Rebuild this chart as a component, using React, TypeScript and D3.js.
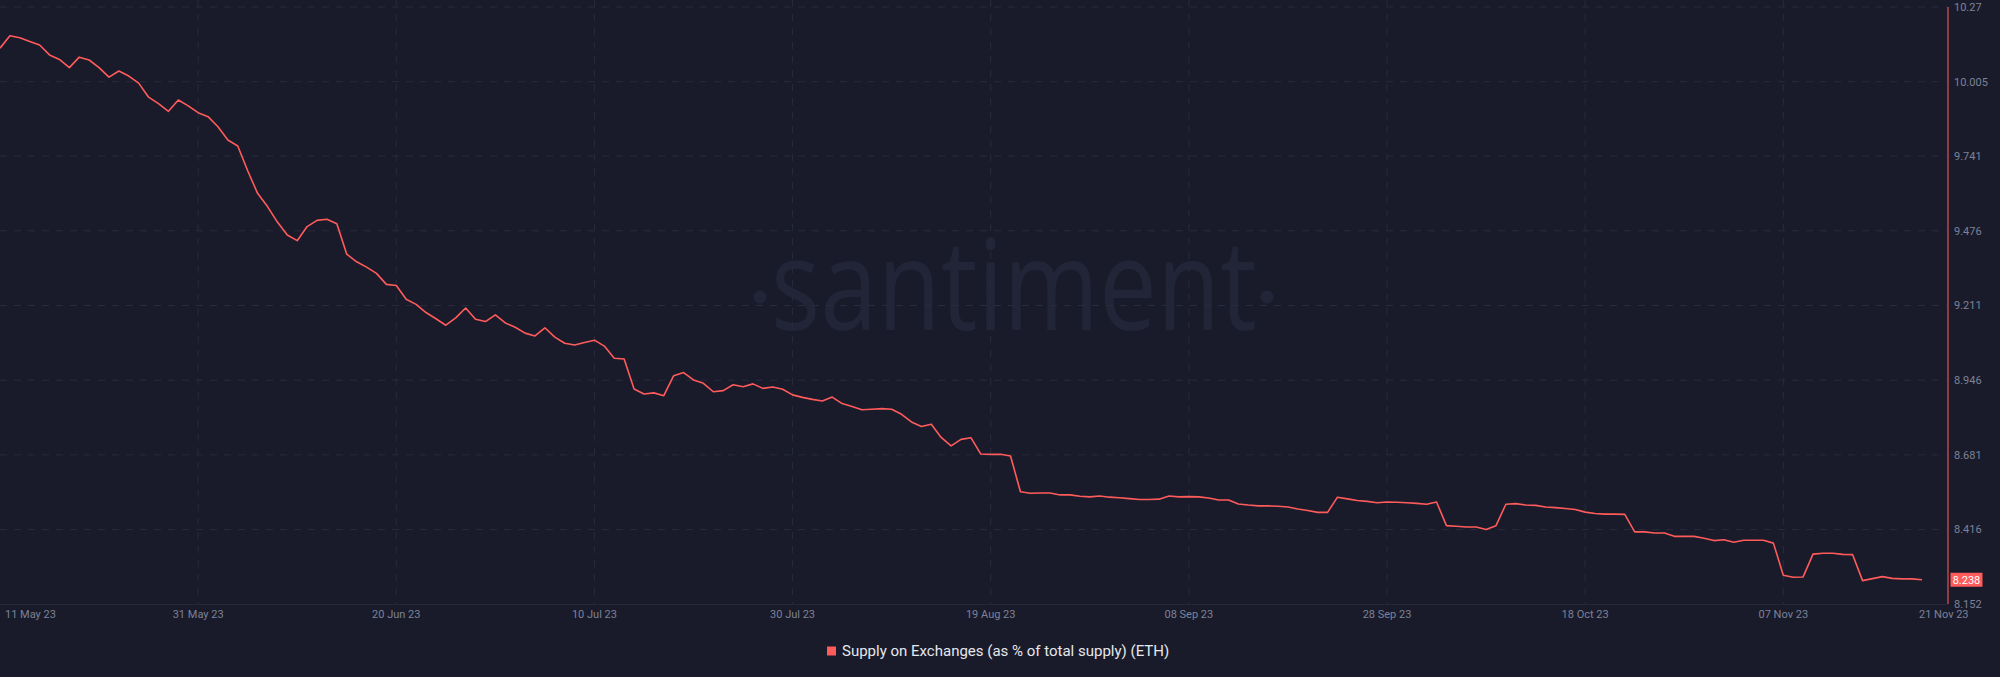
import React from "react";
import * as d3 from "d3";

const START_DATE = "2023-05-11";
const END_DATE = "2023-11-21";

const supplyValues: number[] = [
  10.124, 10.168, 10.161, 10.148, 10.135, 10.100, 10.084, 10.055, 10.092, 10.082,
  10.055, 10.021, 10.043, 10.025, 10.000, 9.950, 9.927, 9.900, 9.940, 9.919,
  9.895, 9.881, 9.845, 9.798, 9.777, 9.689, 9.609, 9.562, 9.507, 9.461,
  9.441, 9.491, 9.513, 9.517, 9.501, 9.393, 9.366, 9.347, 9.325, 9.286,
  9.282, 9.233, 9.215, 9.186, 9.164, 9.141, 9.167, 9.202, 9.162, 9.154,
  9.178, 9.149, 9.134, 9.113, 9.103, 9.132, 9.099, 9.077, 9.071, 9.080,
  9.088, 9.067, 9.024, 9.021, 8.915, 8.897, 8.901, 8.891, 8.962, 8.973,
  8.947, 8.935, 8.905, 8.909, 8.930, 8.923, 8.933, 8.917, 8.922, 8.914,
  8.894, 8.885, 8.878, 8.872, 8.886, 8.863, 8.853, 8.841, 8.843, 8.845,
  8.843, 8.825, 8.798, 8.782, 8.790, 8.743, 8.713, 8.736, 8.742, 8.684,
  8.683, 8.683, 8.677, 8.550, 8.545, 8.546, 8.546, 8.539, 8.539, 8.534,
  8.532, 8.535, 8.531, 8.529, 8.526, 8.523, 8.523, 8.524, 8.535, 8.532,
  8.533, 8.532, 8.528, 8.521, 8.521, 8.507, 8.503, 8.500, 8.500, 8.499,
  8.496, 8.489, 8.484, 8.477, 8.477, 8.531, 8.525, 8.519, 8.516, 8.511,
  8.514, 8.513, 8.511, 8.509, 8.506, 8.514, 8.430, 8.428, 8.425, 8.425,
  8.416, 8.430, 8.506, 8.508, 8.503, 8.502, 8.496, 8.494, 8.491, 8.487,
  8.478, 8.473, 8.471, 8.471, 8.470, 8.408, 8.408, 8.404, 8.404, 8.392,
  8.392, 8.392, 8.385, 8.377, 8.380, 8.371, 8.378, 8.378, 8.378, 8.368,
  8.254, 8.247, 8.248, 8.329, 8.332, 8.332, 8.328, 8.327, 8.235, 8.242,
  8.249, 8.243, 8.241, 8.241, 8.238,
];

const xTickDates: string[] = [
  "2023-05-11", "2023-05-31", "2023-06-20", "2023-07-10", "2023-07-30",
  "2023-08-19", "2023-09-08", "2023-09-28", "2023-10-18", "2023-11-07", "2023-11-21",
];

const yTickLabels: string[] = [
  "10.27", "10.005", "9.741", "9.476", "9.211", "8.946", "8.681", "8.416", "8.152",
];

const Y_MIN = 8.152;
const Y_MAX = 10.27;
const LAST_LABEL = "8.238";
const SERIES_NAME = "Supply on Exchanges (as % of total supply) (ETH)";

const W = 2000;
const H = 677;
const BG = "#191b2b";
const RED = "#ff5b5b";
const GRID = "#282b3c";
const AXIS_TEXT = "#7d8297";
const FONT = "Roboto, 'Noto Sans', sans-serif";

export default function App() {
  const start = d3.utcParse("%Y-%m-%d")(START_DATE) as Date;
  const end = d3.utcParse("%Y-%m-%d")(END_DATE) as Date;
  const data = supplyValues.map((v, i) => ({ date: d3.utcDay.offset(start, i), value: v }));

  const plotRight = 1948;
  const x = d3.scaleUtc().domain([start, end]).range([0, 1922]);
  const y = d3.scaleLinear().domain([Y_MIN, Y_MAX]).range([604, 7]);

  const line = d3
    .line<{ date: Date; value: number }>()
    .x((d) => x(d.date))
    .y((d) => y(d.value));

  const fmt = d3.utcFormat("%d %b %y");
  const parse = d3.utcParse("%Y-%m-%d");
  const ticks = xTickDates.map((s) => parse(s) as Date);
  const lastVal = supplyValues[supplyValues.length - 1];

  return (
    <svg
      width={W}
      height={H}
      style={{ position: "absolute", left: 0, top: 0, display: "block" }}
      fontFamily={FONT}
    >
      <rect x={0} y={0} width={W} height={H} fill={BG} />

      {/* watermark */}
      <g fill="#222537">
        <text
          x={771}
          y={330}
          fontSize={126}
          fontFamily="'Open Sans', 'Noto Sans', sans-serif"
          textLength={486}
          lengthAdjust="spacingAndGlyphs"
        >
          santiment
        </text>
        <circle cx={760} cy={297} r={6.5} />
        <circle cx={1267} cy={297} r={6.5} />
      </g>

      {/* horizontal grid */}
      {yTickLabels.slice(0, -1).map((t) => (
        <line
          key={"h" + t}
          x1={0}
          x2={plotRight}
          y1={y(+t)}
          y2={y(+t)}
          stroke={GRID}
          strokeWidth={1}
          strokeDasharray="7 7"
        />
      ))}
      {/* vertical grid */}
      {ticks.slice(1, -1).map((d, i) => (
        <line
          key={"v" + i}
          x1={x(d)}
          x2={x(d)}
          y1={0}
          y2={604}
          stroke={GRID}
          strokeWidth={1}
          strokeDasharray="7 7"
        />
      ))}
      {/* baseline */}
      <line x1={0} x2={plotRight} y1={604.5} y2={604.5} stroke="#25283a" strokeWidth={1} />

      {/* series line */}
      <path d={line(data) || ""} fill="none" stroke={RED} strokeWidth={1.6} strokeLinejoin="round" />

      {/* right axis */}
      <line x1={plotRight} x2={plotRight} y1={7} y2={604} stroke={RED} strokeOpacity={0.8} strokeWidth={1.3} />
      {yTickLabels.map((t) => (
        <text
          key={"y" + t}
          x={1954}
          y={y(+t)}
          dy="0.35em"
          fontSize={11}
          fill={AXIS_TEXT}
        >
          {t}
        </text>
      ))}

      {/* last value badge */}
      <rect x={1950.5} y={y(lastVal) - 7} width={32} height={14} fill={RED} />
      <text
        x={1966.5}
        y={y(lastVal)}
        dy="0.35em"
        textAnchor="middle"
        fontSize={11}
        fill="#ffffff"
      >
        {LAST_LABEL}
      </text>

      {/* x axis labels */}
      {ticks.map((d, i) => {
        const isFirst = i === 0;
        const isLast = i === ticks.length - 1;
        const px = isFirst ? 5 : isLast ? x(d) - 3 : x(d);
        return (
          <text
            key={"x" + i}
            x={px}
            y={614}
            dy="0.35em"
            fontSize={11}
            fill={AXIS_TEXT}
            textAnchor={isFirst || isLast ? "start" : "middle"}
          >
            {fmt(d)}
          </text>
        );
      })}

      {/* legend */}
      <rect x={827} y={646.5} width={9} height={9} fill={RED} />
      <text x={842} y={651} dy="0.35em" fontSize={15} fill="#e6e7ec">
        {SERIES_NAME}
      </text>
    </svg>
  );
}
